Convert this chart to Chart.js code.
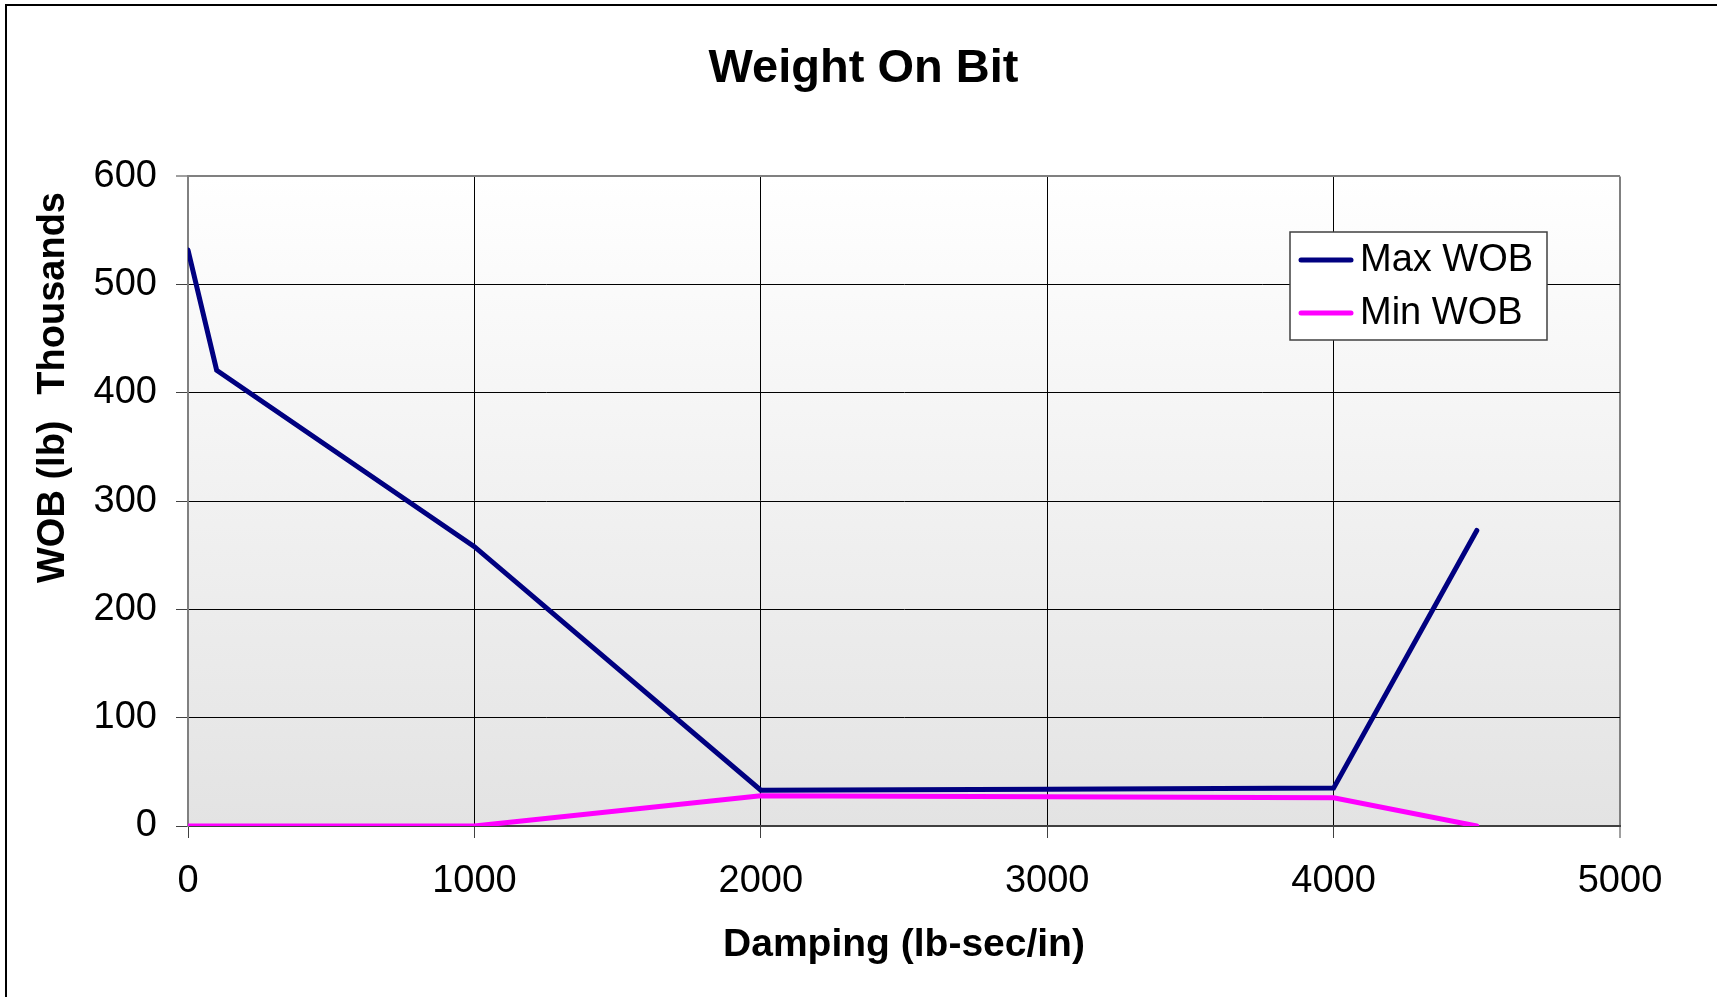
<!DOCTYPE html>
<html>
<head>
<meta charset="utf-8">
<title>Weight On Bit</title>
<script src="https://cdn.jsdelivr.net/npm/chart.js@4.4.1/dist/chart.umd.min.js"></script>
<style>
  html, body { margin: 0; padding: 0; background: #fff; }
  #wrap { width: 1717px; height: 997px; }
</style>
</head>
<body>
<div id="wrap"><canvas id="wobChart" width="1717" height="997"></canvas></div>
<script>
// data (WOB in thousands of lb)
var damping = [0, 100, 1000, 2000, 3000, 4000, 4500];
var maxWob = [532, 421, 258, 33, 34, 35, 273];
var minWob = [0, 0, 0, 28, 27, 26, 0];
var xTicks = [0, 1000, 2000, 3000, 4000, 5000];
var yTicks = [0, 100, 200, 300, 400, 500, 600];
var seriesNames = ['Max WOB', 'Min WOB'];
var seriesColors = ['#000080', '#ff00ff'];

var FONT = '"Liberation Sans", Arial, Helvetica, sans-serif';
Chart.defaults.font.family = FONT;
Chart.defaults.color = '#000';

function toPoints(ys) {
  return damping.map(function (x, i) { return { x: x, y: ys[i] }; });
}

// white page, outer frame and the grey gradient behind the plot
var backgroundPlugin = {
  id: 'plotBackground',
  beforeDraw: function (chart) {
    var ctx = chart.ctx;
    var a = chart.chartArea;
    ctx.save();
    ctx.fillStyle = '#fff';
    ctx.fillRect(0, 0, chart.width, chart.height);
    var grad = ctx.createLinearGradient(0, a.top, 0, a.bottom);
    grad.addColorStop(0, '#ffffff');
    grad.addColorStop(1, '#e3e3e3');
    ctx.fillStyle = grad;
    ctx.fillRect(a.left, a.top, a.right - a.left, a.bottom - a.top);
    ctx.strokeStyle = '#000';
    ctx.lineWidth = 2;
    ctx.beginPath();
    ctx.moveTo(6, chart.height);
    ctx.lineTo(6, 5);
    ctx.lineTo(chart.width, 5);
    ctx.stroke();
    ctx.restore();
  }
};

// y title sits above the centre of the axis, so it is placed by hand
var yTitlePlugin = {
  id: 'yTitle',
  afterDraw: function (chart) {
    var ctx = chart.ctx;
    ctx.save();
    ctx.translate(54, 0);
    ctx.rotate(-Math.PI / 2);
    ctx.font = 'bold 38px ' + FONT;
    ctx.fillStyle = '#000';
    ctx.textBaseline = 'middle';
    ctx.textAlign = 'left';
    ctx.fillText('WOB (lb)', -583, 0);
    ctx.textAlign = 'right';
    ctx.fillText('Thousands', -192, 0);
    ctx.restore();
  }
};

// boxed legend inside the plot, top right
var legendPlugin = {
  id: 'boxLegend',
  afterDraw: function (chart) {
    var ctx = chart.ctx;
    var bx = 1290, by = 232, bw = 257, bh = 108;
    ctx.save();
    ctx.fillStyle = '#fff';
    ctx.fillRect(bx, by, bw, bh);
    ctx.strokeStyle = '#404040';
    ctx.lineWidth = 1.5;
    ctx.strokeRect(bx, by, bw, bh);
    chart.data.datasets.forEach(function (ds, i) {
      var y = by + 28 + i * 53;
      ctx.strokeStyle = ds.borderColor;
      ctx.lineWidth = 5;
      ctx.lineCap = 'round';
      ctx.beginPath();
      ctx.moveTo(1301, y);
      ctx.lineTo(1351, y);
      ctx.stroke();
      ctx.fillStyle = '#000';
      ctx.font = '38px ' + FONT;
      ctx.textBaseline = 'middle';
      ctx.textAlign = 'left';
      ctx.fillText(ds.label, 1360, y + 1);
    });
    ctx.restore();
  }
};

var ctx = document.getElementById('wobChart').getContext('2d');
var wobChart = new Chart(ctx, {
  type: 'line',
  data: {
    datasets: [
      {
        label: seriesNames[0],
        data: toPoints(maxWob),
        borderColor: seriesColors[0],
        backgroundColor: seriesColors[0],
        borderWidth: 5,
        borderCapStyle: 'round',
        pointRadius: 0,
        tension: 0,
        fill: false
      },
      {
        label: seriesNames[1],
        data: toPoints(minWob),
        borderColor: seriesColors[1],
        backgroundColor: seriesColors[1],
        borderWidth: 5,
        borderCapStyle: 'round',
        pointRadius: 0,
        tension: 0,
        fill: false
      }
    ]
  },
  options: {
    responsive: false,
    animation: false,
    layout: { padding: { left: 10, top: 0, right: 0, bottom: 0 } },
    plugins: {
      legend: { display: false },
      tooltip: { enabled: false },
      title: {
        display: true,
        text: 'Weight On Bit',
        color: '#000',
        font: { size: 47, weight: 'bold' },
        padding: { top: 41, bottom: 79 }
      }
    },
    scales: {
      x: {
        type: 'linear',
        position: 'bottom',
        min: xTicks[0],
        max: xTicks[xTicks.length - 1],
        ticks: {
          stepSize: xTicks[1] - xTicks[0],
          font: { size: 38 },
          color: '#000',
          padding: 21,
          maxRotation: 0,
          callback: function (v) { return String(v); }
        },
        grid: {
          color: function (c) { return c.tick && c.tick.value === xTicks[xTicks.length - 1] ? '#808080' : '#000'; },
          lineWidth: function (c) { return c.tick && c.tick.value === xTicks[xTicks.length - 1] ? 2 : 1; },
          tickColor: '#404040',
          tickLength: 12,
          tickWidth: 1
        },
        border: { color: '#404040', width: 2 },
        title: {
          display: true,
          text: 'Damping (lb-sec/in)',
          color: '#000',
          font: { size: 39, weight: 'bold' },
          padding: { top: 0, bottom: 28 }
        },
        afterFit: function (s) { s.height = 171; }
      },
      y: {
        type: 'linear',
        position: 'left',
        min: yTicks[0],
        max: yTicks[yTicks.length - 1],
        ticks: {
          stepSize: yTicks[1] - yTicks[0],
          font: { size: 38 },
          color: '#000',
          padding: 19
        },
        grid: {
          color: function (c) { return c.tick && c.tick.value === yTicks[yTicks.length - 1] ? '#808080' : '#000'; },
          lineWidth: function (c) { return c.tick && c.tick.value === yTicks[yTicks.length - 1] ? 2 : 1; },
          tickColor: '#404040',
          tickLength: 12,
          tickWidth: 1
        },
        border: { color: '#808080', width: 2 },
        afterFit: function (s) { s.width = 178; }
      },
      // empty right-hand axis only reserves the white margin right of the plot
      spacer: {
        type: 'linear',
        position: 'right',
        display: true,
        ticks: { display: false },
        grid: { display: false, drawTicks: false },
        border: { display: false },
        afterFit: function (s) { s.width = 97; }
      }
    }
  },
  plugins: [backgroundPlugin, yTitlePlugin, legendPlugin]
});
</script>
</body>
</html>
